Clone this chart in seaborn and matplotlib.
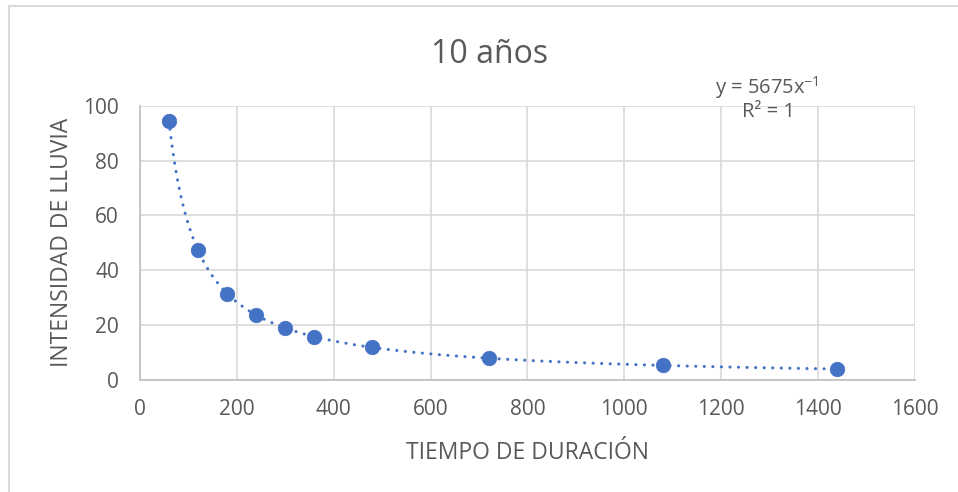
import numpy as np
import pandas as pd
import matplotlib
matplotlib.use("Agg")
import matplotlib.pyplot as plt
from matplotlib.lines import Line2D
import seaborn as sns

# Rainfall intensity vs. duration, return period 10 years
duracion = [60, 120, 180, 240, 300, 360, 480, 720, 1080, 1440]
intensidad = [94.6, 47.3, 31.5, 23.6, 18.9, 15.8, 11.8, 7.9, 5.3, 3.9]

# Power-law trendline y = a * x^b and its fit quality
trend_a = 5675
trend_b = -1
trend_r2 = 1

titulo = "10 años"
x_label = "TIEMPO DE DURACIÓN"
y_label = "INTENSIDAD DE LLUVIA"
x_ticks = [0, 200, 400, 600, 800, 1000, 1200, 1400, 1600]
y_ticks = [0, 20, 40, 60, 80, 100]

sns.set_theme(style="white")
plt.rcParams["font.family"] = ["Open Sans", "DejaVu Sans"]
plt.rcParams["mathtext.fontset"] = "custom"
plt.rcParams["mathtext.rm"] = "Open Sans"

text_c = "#595959"
grid_c = "#d9d9d9"
blue = "#4472C4"

df = pd.DataFrame({"x": duracion, "y": intensidad})
xs = np.linspace(min(duracion), max(duracion), 400)
trend = pd.DataFrame({"x": xs, "y": trend_a * xs ** float(trend_b)})

fig = plt.figure(figsize=(9.58, 4.92), dpi=100)
ax = fig.add_axes([0.146, 0.228, 0.809, 0.557])

ax.set_xlim(0, 1600)
ax.set_ylim(0, 100)
ax.set_xticks(x_ticks)
ax.set_yticks(y_ticks)
ax.grid(True, color=grid_c, linewidth=1.2)
ax.set_axisbelow(True)
for side in ["top", "right"]:
    ax.spines[side].set_visible(False)
for side in ["left", "bottom"]:
    ax.spines[side].set_color("#bfbfbf")
    ax.spines[side].set_linewidth(1.2)

sns.lineplot(data=trend, x="x", y="y", ax=ax, color=blue, linewidth=2.2,
             dashes=False, zorder=2)
ax.lines[-1].set_linestyle((0, (0.05, 2.75)))
ax.lines[-1].set_dash_capstyle("round")
sns.scatterplot(data=df, x="x", y="y", ax=ax, s=110, color=blue,
                edgecolor=blue, linewidth=0.5, zorder=3)

ax.tick_params(axis="x", length=0, labelsize=15, labelcolor=text_c, pad=14)
ax.tick_params(axis="y", length=0, labelsize=15, labelcolor=text_c, pad=15)
ax.set_xlabel(x_label, fontsize=16.5, color=text_c, labelpad=15)
ax.set_ylabel(y_label, fontsize=16.5, color=text_c, labelpad=7)

fig.text(0.511, 0.89, titulo, fontsize=23, color=text_c, ha="center", va="center")
fig.text(0.801, 0.823, "y = %dx$^{%d}$" % (trend_a, trend_b),
         fontsize=14.5, color=text_c, ha="center", va="center")
fig.text(0.802, 0.772, "R² = %d" % trend_r2, fontsize=14.5, color=text_c,
         ha="center", va="center")

# Chart frame
fig.add_artist(Line2D([0.009, 0.009], [0.0, 0.988], transform=fig.transFigure,
                      color="#d9d9d9", linewidth=1.5))
fig.add_artist(Line2D([0.009, 1.0], [0.988, 0.988], transform=fig.transFigure,
                      color="#d9d9d9", linewidth=1.5))

fig.savefig("out.png", dpi=100, facecolor="white")
